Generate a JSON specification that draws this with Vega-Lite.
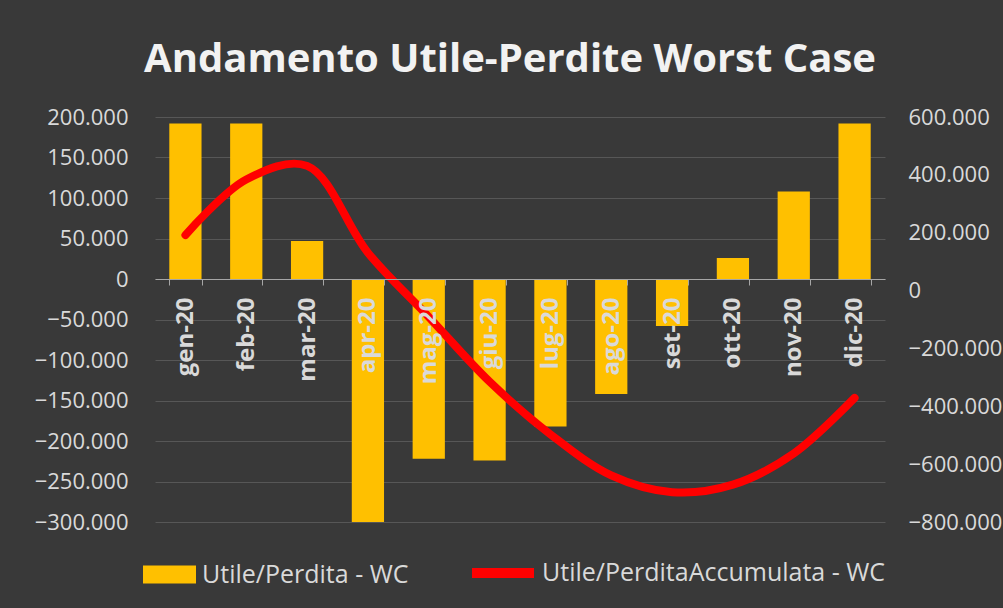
{
  "$schema": "https://vega.github.io/schema/vega-lite/v6.json",
  "width": 730,
  "height": 405,
  "autosize": {"type": "none"},
  "padding": {"left": 155, "top": 117, "right": 118, "bottom": 86},
  "background": "#393939",
  "title": {
    "text": "Andamento Utile-Perdite Worst Case",
    "font": "Open Sans",
    "fontSize": 40,
    "fontWeight": "bold",
    "color": "#f2f2f2",
    "anchor": "middle",
    "offset": 26,
    "dx": -10
  },
  "config": {
    "locale": {"number": {"decimal": ",", "thousands": ".", "grouping": [3], "currency": ["€", ""]}},
    "view": {"stroke": null}
  },
  "data": {
    "values": [
      {"mese": "gen-20", "valore": 192000, "cumulato": 192000},
      {"mese": "feb-20", "valore": 192000, "cumulato": 384000},
      {"mese": "mar-20", "valore": 47000, "cumulato": 431000},
      {"mese": "apr-20", "valore": -300000, "cumulato": 131000},
      {"mese": "mag-20", "valore": -222000, "cumulato": -91000},
      {"mese": "giu-20", "valore": -224000, "cumulato": -315000},
      {"mese": "lug-20", "valore": -182000, "cumulato": -497000},
      {"mese": "ago-20", "valore": -142000, "cumulato": -639000},
      {"mese": "set-20", "valore": -58000, "cumulato": -697000},
      {"mese": "ott-20", "valore": 26000, "cumulato": -671000},
      {"mese": "nov-20", "valore": 108000, "cumulato": -563000},
      {"mese": "dic-20", "valore": 192000, "cumulato": -371000}
    ]
  },
  "layer": [
    {
      "mark": {"type": "bar"},
      "encoding": {
        "x": {
          "field": "mese",
          "type": "nominal",
          "sort": null,
          "scale": {"paddingInner": 0.47, "paddingOuter": 0.235},
          "axis": {
            "orient": "bottom",
            "offset": -243,
            "zindex": 1,
            "title": null,
            "labelAngle": -90,
            "labelFont": "Open Sans",
            "labelFontSize": 24,
            "labelFontWeight": "bold",
            "labelColor": "#d9d9d9",
            "labelPadding": 12,
            "labelOverlap": false,
            "domainColor": "#a6a6a6",
            "tickColor": "#a6a6a6",
            "tickSize": 6,
            "tickBand": "extent",
            "grid": false
          }
        },
        "y": {
          "field": "valore",
          "type": "quantitative",
          "scale": {"domain": [-300000, 200000], "nice": false},
          "axis": {
            "title": null,
            "values": [-300000, -250000, -200000, -150000, -100000, -50000, 0, 50000, 100000, 150000, 200000],
            "format": ",d",
            "labelFont": "Open Sans",
            "labelFontSize": 22,
            "labelColor": "#d9d9d9",
            "labelPadding": 27,
            "domain": false,
            "ticks": false,
            "grid": true,
            "gridColor": "#575757",
            "gridWidth": 1
          }
        },
        "fill": {
          "datum": "Utile/Perdita - WC",
          "scale": {"range": ["#FFC000"]},
          "legend": {
            "orient": "none",
            "legendX": -12,
            "legendY": 431,
            "title": null,
            "labelFont": "Open Sans",
            "labelFontSize": 25,
            "labelColor": "#d9d9d9",
            "labelOffset": 6,
            "labelLimit": 0,
            "symbolType": "M-1,-0.34H1V0.34H-1Z",
            "symbolSize": 2809,
            "symbolStrokeWidth": 0
          }
        }
      }
    },
    {
      "mark": {"type": "line", "strokeWidth": 8, "strokeCap": "round", "interpolate": "catmull-rom"},
      "encoding": {
        "x": {"field": "mese", "type": "nominal", "sort": null},
        "y": {
          "field": "cumulato",
          "type": "quantitative",
          "scale": {"domain": [-800000, 600000], "nice": false},
          "axis": {
            "orient": "right",
            "title": null,
            "values": [-800000, -600000, -400000, -200000, 0, 200000, 400000, 600000],
            "format": ",d",
            "labelFont": "Open Sans",
            "labelFontSize": 22,
            "labelColor": "#d9d9d9",
            "labelPadding": 23,
            "domain": false,
            "ticks": false,
            "grid": false
          }
        },
        "stroke": {
          "datum": "Utile/PerditaAccumulata - WC",
          "scale": {"range": ["#FF0000"]},
          "legend": {
            "orient": "none",
            "legendX": 312,
            "legendY": 420,
            "title": null,
            "labelFont": "Open Sans",
            "labelFontSize": 25,
            "labelColor": "#d9d9d9",
            "labelOffset": 3,
            "labelLimit": 0,
            "symbolType": "stroke",
            "symbolSize": 3844,
            "symbolStrokeWidth": 10
          }
        }
      }
    }
  ],
  "resolve": {"scale": {"y": "independent", "fill": "independent", "stroke": "independent"}}
}
